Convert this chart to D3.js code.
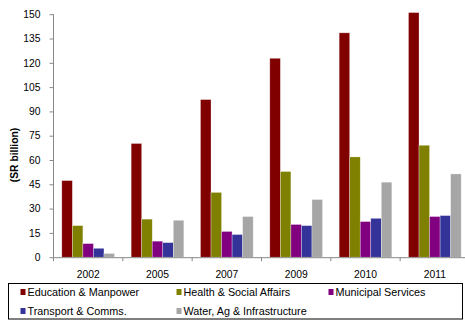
<!DOCTYPE html>
<html><head><meta charset="utf-8">
<script src="https://cdn.jsdelivr.net/npm/d3@7"></script>
<style>body{margin:0;background:#fff}svg{display:block;font-family:"Liberation Sans",Arial,sans-serif}</style>
</head><body><svg id="c" width="465" height="320"></svg>
<script>
const years = ["2002","2005","2007","2009","2010","2011"];
const seriesNames = ["Education & Manpower","Health & Social Affairs","Municipal Services","Transport & Comms.","Water, Ag & Infrastructure"];
const seriesColors = ["#800000","#808000","#800080","#333399","#A6A6A6"];
const education = [47.3, 70.2, 97.3, 122.8, 138.5, 151];
const health = [19.5, 23.5, 40, 52.9, 61.9, 69.1];
const municipal = [8.4, 9.9, 15.9, 20.2, 22, 25.1];
const transport = [5.5, 9, 14, 19.5, 24, 25.7];
const water = [2.3, 22.8, 25.1, 35.6, 46.3, 51.4];
const yTicks = [0,15,30,45,60,75,90,105,120,135,150];
const values = [education, health, municipal, transport, water];

const svg = d3.select("#c");
const x0 = d3.scaleBand().domain(years).range([53.5, 469.5]).padding(0);
const bw = x0.bandwidth();
const x1 = d3.scaleBand().domain(d3.range(seriesNames.length)).range([bw*0.12, bw*0.88]).padding(0);
const y = d3.scaleLinear().domain([0,150]).range([257.2, 14.2]);

// y axis
const ya = svg.append("g").attr("transform","translate(53.5,0)")
  .call(d3.axisLeft(y).tickValues(yTicks).tickSize(4).tickPadding(9));
ya.select(".domain").attr("stroke","#888").attr("d","M0,"+y(150)+"V"+y(0));
ya.selectAll(".tick line").attr("stroke","#888");
ya.selectAll("text").attr("font-size","10.3px").attr("fill","#000").attr("font-family","Liberation Sans, Arial, sans-serif");

// bars
const g = svg.append("g");
years.forEach((yr, i) => {
  values.forEach((arr, s) => {
    g.append("rect")
      .attr("x", x0(yr) + x1(s))
      .attr("width", x1.bandwidth())
      .attr("y", y(arr[i]))
      .attr("height", y(0) - y(arr[i]))
      .attr("fill", seriesColors[s])
      .attr("stroke", "#fff").attr("stroke-opacity",0.5).attr("stroke-width",0.6);
  });
});

// x axis
const xa = svg.append("g").attr("transform","translate(0,"+(y(0)+0.5)+")")
  .call(d3.axisBottom(x0).tickSize(0).tickPadding(13));
xa.select(".domain").attr("stroke","#888").attr("d","M53.5,0H465");
xa.selectAll("text").attr("font-size","10.3px").attr("fill","#000").attr("font-family","Liberation Sans, Arial, sans-serif");
// boundary ticks
svg.append("g").selectAll("line").data(years).join("line")
  .attr("x1", d => x0(d)).attr("x2", d => x0(d))
  .attr("y1", y(0)).attr("y2", y(0)+4).attr("stroke","#888");

// y label
svg.append("text").attr("transform","translate(17.5,155) rotate(-90)")
  .attr("text-anchor","middle").attr("font-size","10.3px").attr("font-weight","bold")
  .text("(SR billion)");

// legend
svg.append("rect").attr("x",8.5).attr("y",283.5).attr("width",454).attr("height",35.5)
  .attr("fill","none").attr("stroke","#000").attr("stroke-width",1);
const legPos = [[20.5,292.5],[176.5,292.5],[328.5,292.5],[20.5,311.5],[176.5,311.5]];
seriesNames.forEach((n, s) => {
  const [lx, ly] = legPos[s];
  svg.append("rect").attr("x",lx).attr("y",ly-3.5).attr("width",5).attr("height",6).attr("fill",seriesColors[s]);
  svg.append("text").attr("x",lx+7).attr("y",ly).attr("dy","0.35em")
    .attr("font-size","10.8px").attr("fill","#000").text(n);
});
</script></body></html>
